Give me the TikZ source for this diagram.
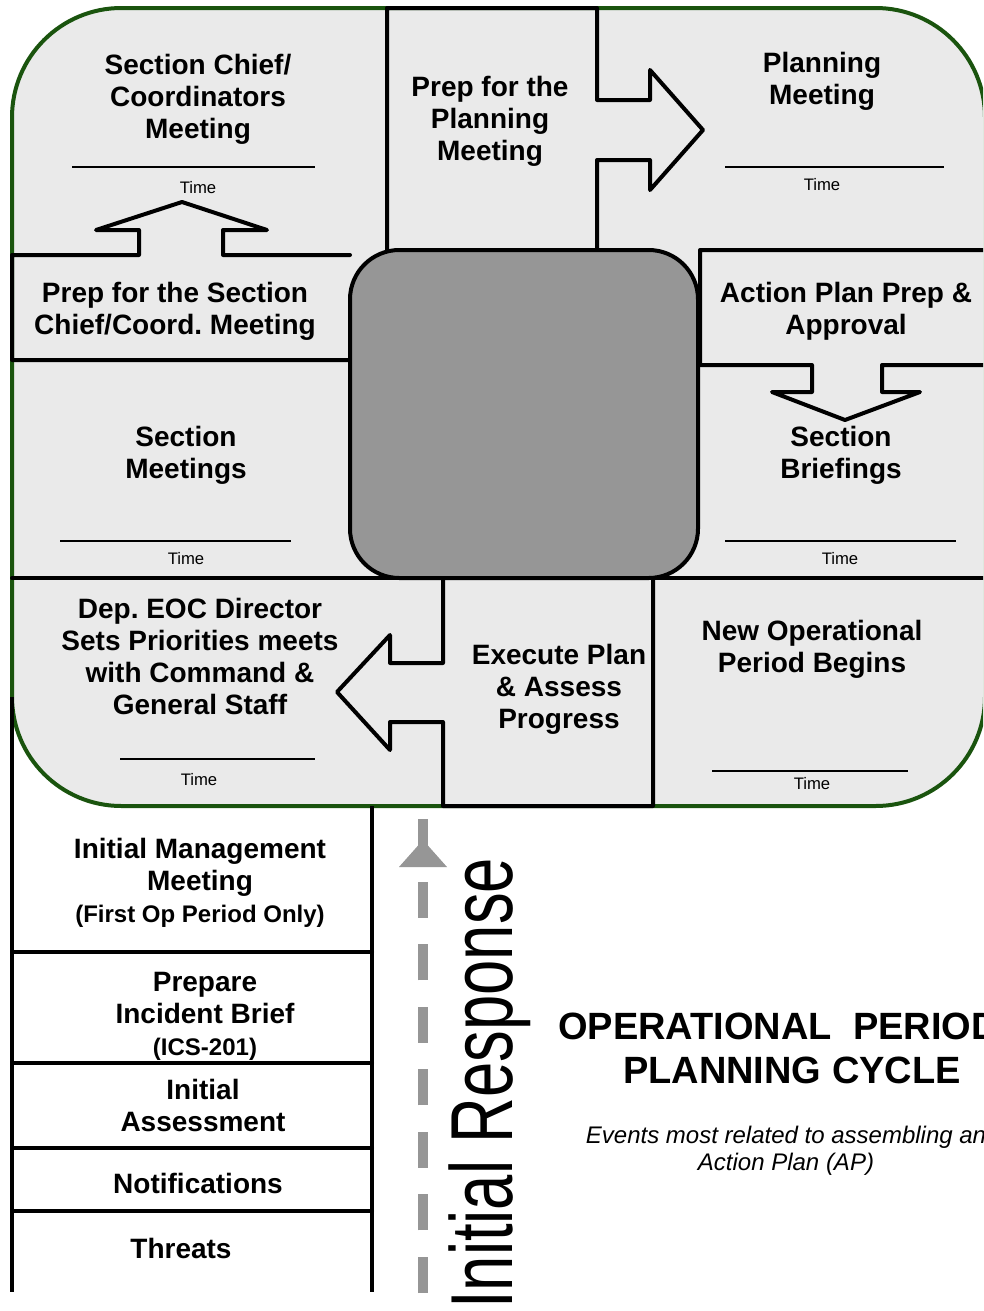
\documentclass[tikz,border=0pt]{standalone}
\usepackage{fontspec}
\setmainfont{Liberation Sans}
\frenchspacing
\definecolor{framegreen}{RGB}{26,84,14}
\definecolor{panelgray}{RGB}{234,234,234}
\definecolor{coregray}{RGB}{150,150,150}
\definecolor{dashgray}{RGB}{150,150,150}
\newcommand\boxfont{\fontsize{21}{24}\selectfont\bfseries}
\newcommand\subboxfont{\fontsize{18}{24}\selectfont\bfseries}
\begin{document}
\begin{tikzpicture}[x=0.75pt,y=-0.75pt,
  lbl/.style={align=center,font=\boxfont,inner sep=0pt},
  timelbl/.style={font=\fontsize{12.5}{14}\selectfont,inner sep=0pt},
  boxline/.style={line width=3pt,line join=round,line cap=round},
  timeline/.style={line width=1.1pt},
  frame/.style={draw=framegreen,fill=panelgray,line width=3pt,rounded corners=82pt},
  core/.style={draw=black,fill=coregray,line width=3pt,rounded corners=37pt},
  irdash/.style={draw=dashgray,line width=7.5pt,dash pattern=on 27pt off 19.9pt},
]
\useasboundingbox (0,0) rectangle (983,1311);
\clip (0,0) rectangle (983,1311);
\fill[white] (0,0) rectangle (983,1311);

% outer frame
\draw[frame] (12,8) rectangle (985,806);

% left column below the frame
\draw[boxline,line cap=butt] (12,697) -- (12,1292);
\draw[boxline,line cap=butt] (372,806) -- (372,1292);
\draw[boxline] (12,952) -- (372,952);
\draw[boxline] (12,1063) -- (372,1063);
\draw[boxline] (12,1148) -- (372,1148);
\draw[boxline] (12,1211) -- (372,1211);

% horizontal divider
\draw[boxline] (12,578) -- (985,578);

% top middle box with right arrow
\draw[boxline] (387,250) -- (387,8) -- (597,8) -- (597,100) -- (650,100) -- (650,70)
  -- (703,130) -- (650,190) -- (650,160) -- (597,160) -- (597,250);

% left box with up arrow
\draw[boxline] (350,255) -- (223,255) -- (223,230) -- (267,230) -- (182,202)
  -- (96,230) -- (139,230) -- (139,255) -- (12,255) -- (12,360) -- (350,360);

% right box with down arrow
\draw[boxline] (985,250) -- (700,250) -- (700,365) -- (812,365) -- (812,392)
  -- (772,392) -- (845,420) -- (920,392) -- (882,392) -- (882,365) -- (985,365);

% bottom middle box with left arrow
\draw[boxline] (443,578) -- (443,663) -- (390,663) -- (390,635) -- (337,692)
  -- (390,750) -- (390,722) -- (443,722) -- (443,806) -- (653,806) -- (653,578);

% central core
\draw[core] (350,250) rectangle (698,578);

% time lines
\draw[timeline] (72,167) -- (315,167);
\draw[timeline] (725,167) -- (944,167);
\draw[timeline] (60,541) -- (291,541);
\draw[timeline] (725,541) -- (956,541);
\draw[timeline] (120,759) -- (315,759);
\draw[timeline] (712,771) -- (908,771);

\node[timelbl] (t1) at (198,188) {Time};
\node[timelbl] (t2) at (822,185) {Time};
\node[timelbl] (t3) at (186,559) {Time};
\node[timelbl] (t4) at (840,559) {Time};
\node[timelbl] (t5) at (199,780) {Time};
\node[timelbl] (t6) at (812,784) {Time};

% labels
\node[lbl] (sc) at (198,99) {Section Chief/\\Coordinators\\Meeting};
\node[lbl] (ppm) at (490,121) {Prep for the\\Planning\\Meeting};
\node[lbl] (pm) at (822,81) {Planning\\Meeting};
\node[lbl] (psc) at (175,311) {Prep for the Section\\Chief/Coord. Meeting};
\node[lbl] (ap) at (846,311) {Action Plan Prep \&\\Approval};
\node[lbl] (sm) at (186,455) {Section\\Meetings};
\node[lbl] (sb) at (841,455) {Section\\Briefings};
\node[lbl] (dep) at (200,656) {Dep. EOC Director\\Sets Priorities meets\\with Command \&\\General Staff};
\node[lbl] (ex) at (559,689) {Execute Plan\\\& Assess\\Progress};
\node[lbl] (nop) at (812,649) {New Operational\\Period Begins};
\node[lbl] (imm) at (200,883) {Initial Management\\Meeting\\{\subboxfont(First Op Period Only)}};
\node[lbl] (pib) at (205,1016) {Prepare\\Incident Brief\\{\subboxfont(ICS-201)}};
\node[lbl] (ia) at (203,1105) {Initial\\Assessment};
\node[lbl] (nt) at (198,1183) {Notifications};
\node[lbl] (th) at (181,1248) {Threats};

% initial response arrow
\coordinate (irbot) at (423,1293);
\coordinate (irtop) at (423,818);
\draw[irdash] (irbot) -- (irtop);
\fill[dashgray] (399,867) -- (447,867) -- (423,840) -- cycle;

\node[rotate=90,anchor=base west,inner sep=0pt] (ir) at (512,1309)
  {\scalebox{0.72}[1]{\fontsize{66}{70}\selectfont Initial Response}};

% title
\node[anchor=west,inner sep=0pt,font=\fontsize{28.5}{33}\selectfont\bfseries] (title1) at (558,1026) {OPERATIONAL\ \ PERIOD};
\node[inner sep=0pt,font=\fontsize{28.5}{33}\selectfont\bfseries] (title2) at (792,1070) {PLANNING CYCLE};
\node[align=center,inner sep=0pt,font=\fontsize{18}{20}\selectfont\itshape] (sub) at (786,1151) {Events most related to assembling an\\Action Plan (AP)};
\end{tikzpicture}
\end{document}
